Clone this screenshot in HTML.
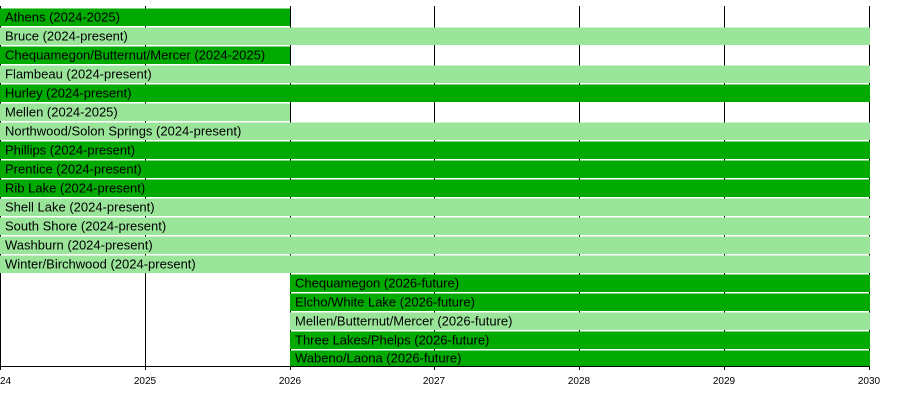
<!DOCTYPE html>
<html><head><style>body{margin:0;background:#fff}</style></head><body>
<svg width="900" height="415" xmlns="http://www.w3.org/2000/svg" font-family="Liberation Sans, sans-serif">
<g stroke="#000" stroke-width="1">
<line x1="0.5" y1="6" x2="0.5" y2="370"/>
<line x1="145.5" y1="6" x2="145.5" y2="370"/>
<line x1="290.5" y1="6" x2="290.5" y2="370"/>
<line x1="434.5" y1="6" x2="434.5" y2="370"/>
<line x1="579.5" y1="6" x2="579.5" y2="370"/>
<line x1="724.5" y1="6" x2="724.5" y2="370"/>
<line x1="869.5" y1="6" x2="869.5" y2="370"/>
<line x1="0" y1="366.5" x2="870" y2="366.5"/>
</g>
<g font-size="13" fill="#000">
<rect x="0" y="8.5" width="290" height="17.5" fill="#00aa00"/><text x="5" y="21.5">Athens (2024-2025)</text>
<rect x="0" y="27.5" width="870" height="17.5" fill="#9be59b"/><text x="5" y="40.5">Bruce (2024-present)</text>
<rect x="0" y="46.5" width="290" height="17.5" fill="#00aa00"/><text x="5" y="59.5">Chequamegon/Butternut/Mercer (2024-2025)</text>
<rect x="0" y="65.5" width="870" height="17.5" fill="#9be59b"/><text x="5" y="78.5">Flambeau (2024-present)</text>
<rect x="0" y="84.5" width="870" height="17.5" fill="#00aa00"/><text x="5" y="97.5">Hurley (2024-present)</text>
<rect x="0" y="103.5" width="290" height="17.5" fill="#9be59b"/><text x="5" y="116.5">Mellen (2024-2025)</text>
<rect x="0" y="122.5" width="870" height="17.5" fill="#9be59b"/><text x="5" y="135.5">Northwood/Solon Springs (2024-present)</text>
<rect x="0" y="141.5" width="870" height="17.5" fill="#00aa00"/><text x="5" y="154.5">Phillips (2024-present)</text>
<rect x="0" y="160.5" width="870" height="17.5" fill="#00aa00"/><text x="5" y="173.5">Prentice (2024-present)</text>
<rect x="0" y="179.5" width="870" height="17.5" fill="#00aa00"/><text x="5" y="192.5">Rib Lake (2024-present)</text>
<rect x="0" y="198.5" width="870" height="17.5" fill="#9be59b"/><text x="5" y="211.5">Shell Lake (2024-present)</text>
<rect x="0" y="217.5" width="870" height="17.5" fill="#9be59b"/><text x="5" y="230.5">South Shore (2024-present)</text>
<rect x="0" y="236.5" width="870" height="17.5" fill="#9be59b"/><text x="5" y="249.5">Washburn (2024-present)</text>
<rect x="0" y="255.5" width="870" height="17.5" fill="#9be59b"/><text x="5" y="268.5">Winter/Birchwood (2024-present)</text>
<rect x="290" y="274.5" width="580" height="17.5" fill="#00aa00"/><text x="295" y="287.5">Chequamegon (2026-future)</text>
<rect x="290" y="293.5" width="580" height="17.5" fill="#00aa00"/><text x="295" y="306.5">Elcho/White Lake (2026-future)</text>
<rect x="290" y="312.5" width="580" height="17.5" fill="#9be59b"/><text x="295" y="325.5">Mellen/Butternut/Mercer (2026-future)</text>
<rect x="290" y="331.5" width="580" height="17.5" fill="#00aa00"/><text x="295" y="344.5">Three Lakes/Phelps (2026-future)</text>
<rect x="290" y="350.5" width="580" height="15.5" fill="#00aa00"/><text x="295" y="362.5">Wabeno/Laona (2026-future)</text>
</g>
<g font-size="10" fill="#000" text-anchor="middle">
<text x="0" y="384">2024</text>
<text x="145" y="384">2025</text>
<text x="290" y="384">2026</text>
<text x="434" y="384">2027</text>
<text x="579" y="384">2028</text>
<text x="724" y="384">2029</text>
<text x="869" y="384">2030</text>
</g>
</svg>
</body></html>
